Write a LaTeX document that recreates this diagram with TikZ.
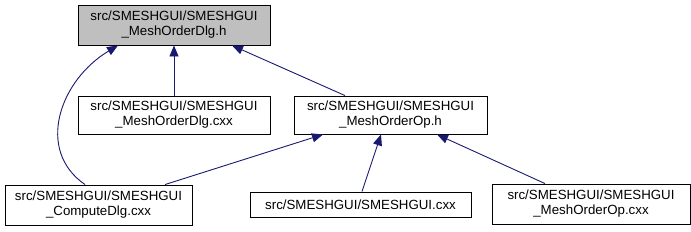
\documentclass[tikz,border=0pt]{standalone}
\usepackage{fontspec}
\setmainfont{Liberation Sans}
\usetikzlibrary{arrows.meta}
\definecolor{edgeblue}{HTML}{191970}
\definecolor{nodegray}{HTML}{BFBFBF}
\tikzset{
  filebox/.style={draw=black, line width=0.9pt, fill=white, align=center, inner sep=0pt,
    font=\fontsize{13.3}{15}\selectfont},
  dep/.style={draw=edgeblue, line width=0.9pt, -{Triangle[length=11pt,width=9pt]}}
}
\begin{document}
\begin{tikzpicture}[x=1pt,y=-1pt]
\useasboundingbox (0,0) rectangle (691,231);
\node[filebox, fill=nodegray, minimum width=192pt, minimum height=40pt] (top) at (174,25) {src/SMESHGUI/SMESHGUI\\\_MeshOrderDlg.h};
\node[filebox, minimum width=192pt, minimum height=38pt] (dlg) at (174,115) {src/SMESHGUI/SMESHGUI\\\_MeshOrderDlg.cxx};
\node[filebox, minimum width=193pt, minimum height=38pt] (oph) at (390.5,115) {src/SMESHGUI/SMESHGUI\\\_MeshOrderOp.h};
\node[filebox, minimum width=187pt, minimum height=40pt] (comp) at (98.5,205) {src/SMESHGUI/SMESHGUI\\\_ComputeDlg.cxx};
\node[filebox, minimum width=221pt, minimum height=25pt] (gui) at (360.5,204.5) {src/SMESHGUI/SMESHGUI.cxx};
\node[filebox, minimum width=198pt, minimum height=40pt] (opcxx) at (591,204) {src/SMESHGUI/SMESHGUI\\\_MeshOrderOp.cxx};

\draw[dep] (dlg.north) -- (top.south);
\draw[dep] (oph.north -| 345,0) -- (top.south -| 232,0);
\draw[dep] (comp.north -| 85,0) .. controls (35,150) and (60,80) .. (top.south -| 118,0);
\draw[dep] (comp.north -| 165,0) -- (oph.south -| 323,0);
\draw[dep] (gui.north -| 362,0) -- (oph.south -| 381,0);
\draw[dep] (opcxx.north -| 545,0) -- (oph.south -| 437,0);
\end{tikzpicture}
\end{document}
